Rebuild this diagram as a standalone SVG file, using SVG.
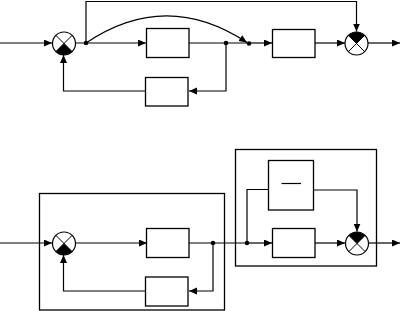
<svg xmlns="http://www.w3.org/2000/svg" width="402" height="311" viewBox="0 0 402 311">
<style>
.ln{fill:none;stroke:#000;stroke-width:1.2}
.bx{fill:#fff;stroke:#000;stroke-width:1.3}
.fr{fill:none;stroke:#000;stroke-width:1.3}
.ar{marker-end:url(#arr)}
.dot{fill:#000}
.sc{fill:#fff;stroke:#000;stroke-width:1.2}
.sx{stroke:#000;stroke-width:1}
.sf{fill:#000}
</style>
<defs>
<marker id="arr" markerUnits="userSpaceOnUse" markerWidth="9" markerHeight="8" refX="8" refY="3.5" orient="auto">
<path d="M0,0 L8,3.5 L0,7 Z" fill="#000"/>
</marker>
<g id="sumDown">
<circle class="sc" cx="0" cy="0" r="11.5"/>
<path class="sf" d="M0,0 L8.1,8.1 A11.5,11.5 0 0 1 -8.1,8.1 Z"/>
<line class="sx" x1="-8.1" y1="-8.1" x2="8.1" y2="8.1"/>
<line class="sx" x1="8.1" y1="-8.1" x2="-8.1" y2="8.1"/>
</g>
<g id="sumUp">
<circle class="sc" cx="0" cy="0" r="11.5"/>
<path class="sf" d="M0,0 L-8.1,-8.1 A11.5,11.5 0 0 1 8.1,-8.1 Z"/>
<line class="sx" x1="-8.1" y1="-8.1" x2="8.1" y2="8.1"/>
<line class="sx" x1="8.1" y1="-8.1" x2="-8.1" y2="8.1"/>
</g>
</defs>

<g id="frames">
<rect class="fr" x="39.5" y="193.5" width="185" height="116.5"/>
<rect class="fr" x="235.5" y="149.5" width="141" height="116.5"/>
</g>

<g id="connectors">
<!-- top diagram -->
<line class="ln ar" x1="0" y1="43" x2="52" y2="43"/>
<line class="ln ar" x1="76" y1="43" x2="146" y2="43"/>
<line class="ln" x1="189" y1="43" x2="249" y2="43"/>
<line class="ln ar" x1="249" y1="43" x2="272" y2="43"/>
<line class="ln ar" x1="315" y1="43" x2="345" y2="43"/>
<line class="ln ar" x1="368" y1="43" x2="400" y2="43"/>
<polyline class="ln ar" points="86,43 86,1.5 356.5,1.5 356.5,31.5"/>
<path class="ln ar" d="M86,43 Q166,-11 247,42.5"/>
<polyline class="ln ar" points="226,43 226,91 189,91"/>
<polyline class="ln ar" points="146,91 63.5,91 63.5,55"/>
<!-- bottom diagram -->
<line class="ln ar" x1="0" y1="243" x2="52" y2="243"/>
<line class="ln ar" x1="76" y1="243" x2="147" y2="243"/>
<line class="ln" x1="189" y1="243" x2="247" y2="243"/>
<line class="ln ar" x1="247" y1="243" x2="272" y2="243"/>
<line class="ln ar" x1="315" y1="243" x2="345" y2="243"/>
<line class="ln ar" x1="369" y1="243" x2="400" y2="243"/>
<polyline class="ln ar" points="213,243 213,291 189,291"/>
<polyline class="ln ar" points="145,291 63.5,291 63.5,255"/>
<polyline class="ln" points="247,243 247,189.5 268,189.5"/>
<polyline class="ln ar" points="313,190 357,190 357,231.5"/>
<circle class="dot" cx="86" cy="43" r="2.3"/>
<circle class="dot" cx="226" cy="43" r="2.3"/>
<circle class="dot" cx="249" cy="43.5" r="2.3"/>
<circle class="dot" cx="213" cy="243" r="2.3"/>
<circle class="dot" cx="247" cy="243" r="2.3"/>
</g>

<g id="sum1"><use href="#sumDown" x="64" y="43.5"/></g>
<g id="sum2"><use href="#sumUp" x="356.5" y="43.5"/></g>
<g id="sum3"><use href="#sumDown" x="64" y="243.5"/></g>
<g id="sum4"><use href="#sumUp" x="357" y="243.5"/></g>

<g id="block1"><rect class="bx" x="146.5" y="28.5" width="42.5" height="29"/></g>
<g id="block2"><rect class="bx" x="272.5" y="29.5" width="42.5" height="28"/></g>
<g id="block3"><rect class="bx" x="145.5" y="77.5" width="42.5" height="28.5"/></g>
<g id="block4"><rect class="bx" x="146.5" y="228.5" width="42.5" height="29"/></g>
<g id="block5"><rect class="bx" x="145.5" y="277" width="42.5" height="29"/></g>
<g id="block6"><rect class="bx" x="268.5" y="160.5" width="45" height="49.5"/>
<line class="ln" x1="281.5" y1="183.5" x2="301" y2="183.5"/></g>
<g id="block7"><rect class="bx" x="272.5" y="228.5" width="42.5" height="29"/></g>
</svg>
